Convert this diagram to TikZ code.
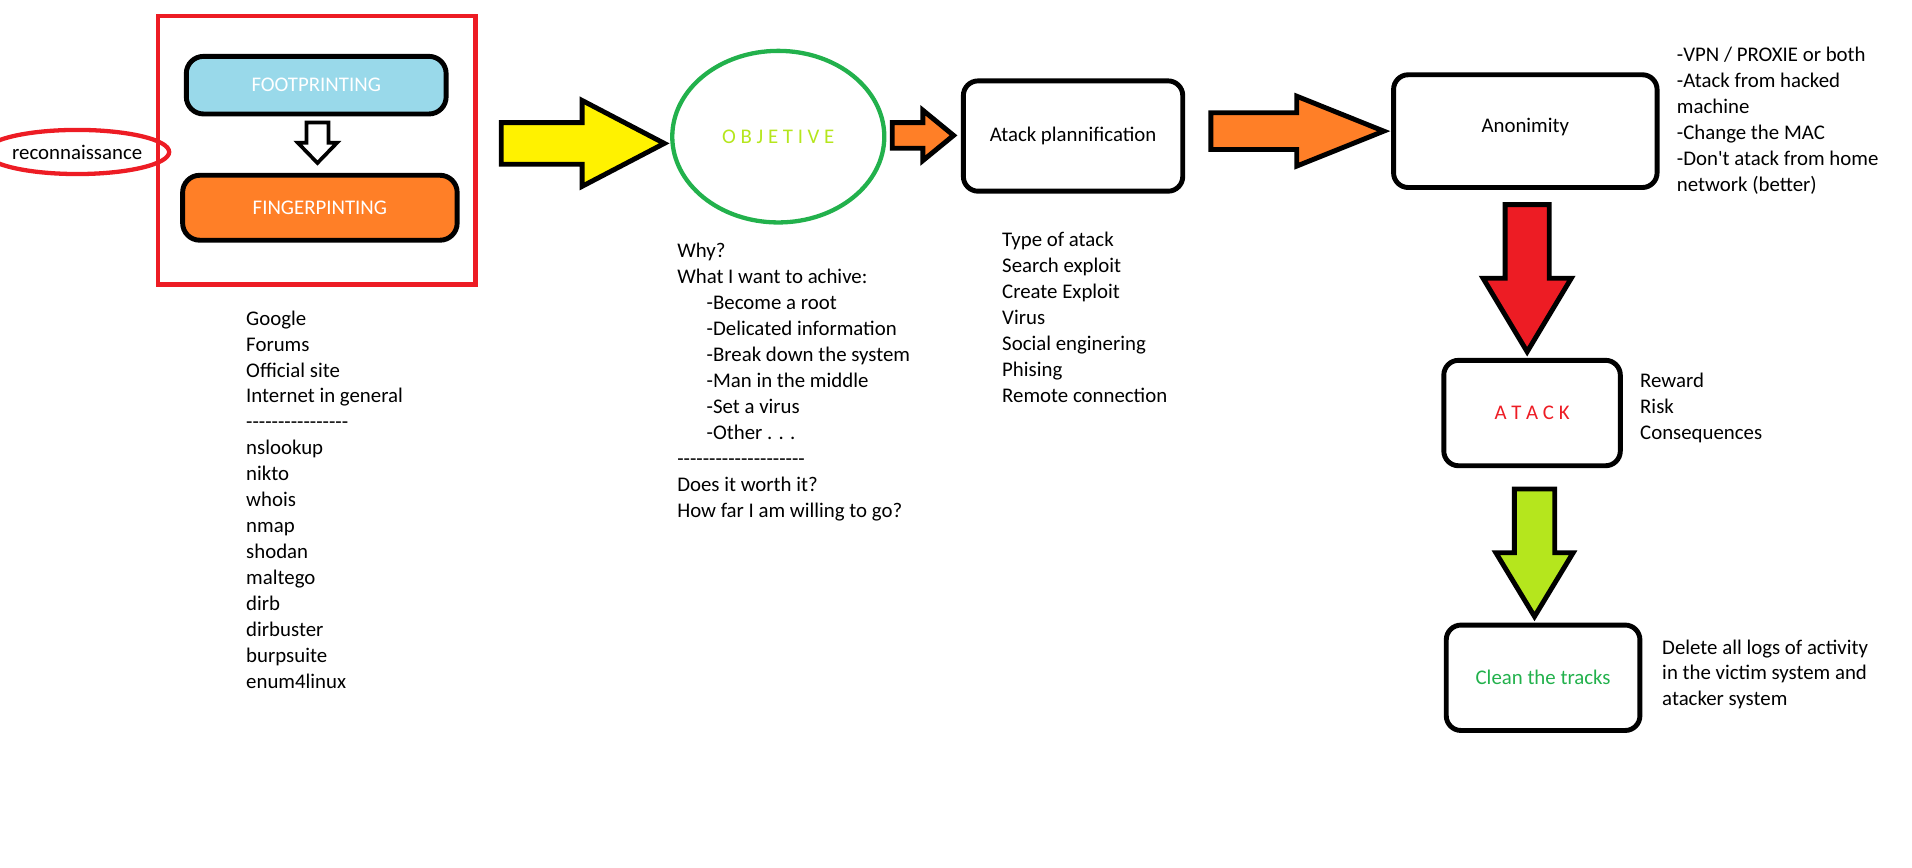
\documentclass[tikz,border=0pt]{standalone}
\usepackage{fontspec}
\setmainfont{Carlito}[Ligatures=TeXOff]
\usepackage{tikz}
\usetikzlibrary{calc,shapes.geometric}

\definecolor{paintred}{HTML}{ED1C24}
\definecolor{paintsky}{HTML}{99D9EA}
\definecolor{paintorange}{HTML}{FF7F27}
\definecolor{paintyellow}{HTML}{FFF200}
\definecolor{paintgreen}{HTML}{22B14C}
\definecolor{paintlime}{HTML}{B5E61D}

\tikzset{
  stepbox/.style={draw, line width=4pt, rounded corners=12pt, inner sep=0pt},
  notes/.style={anchor=base west, inner sep=0pt},
  fatarrow/.style={draw, line width=4pt, miter limit=10},
}

% #1 from, #2 to, #3 shaft half width, #4 head half width, #5 head length, #6 fill
\newcommand{\fatarrow}[6]{%
  \coordinate (hb) at ($(#2)!#5!(#1)$);
  \draw[fatarrow, fill=#6] ($(#1)!#3!90:(#2)$) -- ($(hb)!#3!90:(#2)$)
    -- ($(hb)!#4!90:(#2)$) -- (#2) -- ($(hb)!#4!-90:(#2)$)
    -- ($(hb)!#3!-90:(#2)$) -- ($(#1)!#3!-90:(#2)$) -- cycle;
}

\begin{document}
\begin{tikzpicture}[x=1pt, y=-1pt, font=\fontsize{17}{21}\selectfont]
\useasboundingbox (0,0) rectangle (1560,708);

% reconnaissance
\node[draw=paintred, line width=3.5pt, ellipse, minimum width=121pt, minimum height=36pt, inner sep=0pt] (recon) at (63,124) {reconnaissance};
\node[draw=paintred, line width=3.5pt, minimum width=259pt, minimum height=219pt] (frame) at (258.5,122.7) {};
\node[stepbox, rounded corners=14pt, fill=paintsky, text=white, minimum width=212pt, minimum height=47pt] (foot) at (258,69.5) {FOOTPRINTING};
\node[stepbox, rounded corners=14pt, fill=paintorange, text=white, minimum width=224pt, minimum height=53pt] (finger) at (261,169.5) {FINGERPINTING};
\coordinate (f1) at (259,100);
\coordinate (f2) at (259,133);
\begin{scope}[fatarrow/.append style={line width=3pt}]
\fatarrow{f1}{f2}{9pt}{16pt}{16.5pt}{white}
\end{scope}

\foreach \t [count=\i from 0] in {Google,Forums,Official site,Internet in general,----------------,nslookup,nikto,whois,nmap,shodan,maltego,dirb,dirbuster,burpsuite,enum4linux}
  \node[notes] (tool\i) at (200.7,{265.3+21.16*\i}) {\t};

% objective
\coordinate (y1) at (409,117);
\coordinate (y2) at (542,117);
\fatarrow{y1}{y2}{17pt}{35pt}{67pt}{paintyellow}
\node[draw=paintgreen, line width=3.5pt, ellipse, minimum width=173pt, minimum height=140pt] (objective) at (635,111.5) {\textcolor{paintlime}{O B J E T I V E}};

\foreach \dx/\t [count=\i from 0] in {0/Why?,0/What I want to achive:,24/-Become a root,24/-Delicated information,24/-Break down the system,24/-Man in the middle,24/-Set a virus,24/-Other . . .,0/--------------------,0/Does it worth it?,0/How far I am willing to go?}
  \node[notes] (why\i) at ({552.4+\dx},{209.8+21.26*\i}) {\t};

% plannification
\coordinate (o1) at (728,110.5);
\coordinate (o2) at (778,110.5);
\fatarrow{o1}{o2}{10.5pt}{20.5pt}{25pt}{paintorange}
\node[stepbox, minimum width=179pt, minimum height=90pt] (plan) at (875.5,111) {Atack plannification};

\foreach \t [count=\i from 0] in {Type of atack,Search exploit,Create Exploit,Virus,Social enginering,Phising,Remote connection}
  \node[notes] (type\i) at (817.5,{201.3+21.2*\i}) {\t};

% anonimity
\coordinate (a1) at (988,107);
\coordinate (a2) at (1129,107);
\fatarrow{a1}{a2}{15pt}{28.5pt}{71pt}{paintorange}
\node[stepbox, minimum width=215pt, minimum height=92pt] (anon) at (1244.5,107) {\raisebox{9pt}{Anonimity}};

\foreach \t [count=\i from 0] in {-VPN / PROXIE or both,-Atack from hacked,machine,-Change the MAC,-Don't atack from home,network (better)}
  \node[notes] (hide\i) at (1368,{50.3+21.2*\i}) {\t};

% atack
\coordinate (r1) at (1246,167);
\coordinate (r2) at (1246,287);
\fatarrow{r1}{r2}{18pt}{36pt}{60pt}{paintred}
\node[stepbox, minimum width=144pt, minimum height=86pt] (atack) at (1250,337) {\textcolor{paintred}{A T A C K}};

\foreach \t [count=\i from 0] in {Reward,Risk,Consequences}
  \node[notes] (risk\i) at (1338,{316+21.2*\i}) {\t};

% clean
\coordinate (g1) at (1252,399);
\coordinate (g2) at (1252,503);
\fatarrow{g1}{g2}{16.5pt}{31.5pt}{52pt}{paintlime}
\node[stepbox, minimum width=158pt, minimum height=86pt] (clean) at (1259,553) {\textcolor{paintgreen}{Clean the tracks}};

\foreach \t [count=\i from 0] in {Delete all logs of activity,in the victim system and,atacker system}
  \node[notes] (logs\i) at (1356,{533.6+21.2*\i}) {\t};
\end{tikzpicture}
\end{document}
